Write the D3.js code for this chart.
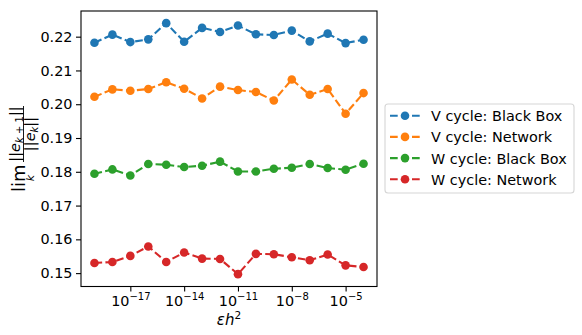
<!DOCTYPE html>
<html>
<head>
<meta charset="utf-8">
<script src="https://cdn.jsdelivr.net/npm/d3@7"></script>
<style>
  body { margin: 0; background: #fff; }
  svg { font-family: "DejaVu Sans", sans-serif; }
</style>
</head>
<body>
<div id="chart"></div>
<script>
// eps*h^2 values, as powers of ten
const exponents = [-19, -18, -17, -16, -15, -14, -13, -12, -11, -10, -9, -8, -7, -6, -5, -4];

const vBlackBox = [0.2182, 0.2206, 0.2184, 0.2192, 0.2240, 0.2185, 0.2226, 0.2214,
  0.2233, 0.2207, 0.2205, 0.2218, 0.2186, 0.2209, 0.2181, 0.2191];
const vNetwork = [0.2022, 0.2044, 0.2040, 0.2045, 0.2065, 0.2046, 0.2017, 0.2052,
  0.2042, 0.2036, 0.2011, 0.2073, 0.2028, 0.2045, 0.1972, 0.2033];
const wBlackBox = [0.1794, 0.1807, 0.1789, 0.1823, 0.1821, 0.1814, 0.1818, 0.1830,
  0.1801, 0.1801, 0.1809, 0.1812, 0.1823, 0.1811, 0.1806, 0.1824];
const wNetwork = [0.1530, 0.1533, 0.1551, 0.1579, 0.1533, 0.1561, 0.1543, 0.1542,
  0.1497, 0.1557, 0.1556, 0.1547, 0.1538, 0.1555, 0.1523, 0.1518];

const seriesNames = ["V cycle: Black Box", "V cycle: Network", "W cycle: Black Box", "W cycle: Network"];
const seriesColors = ["#1f77b4", "#ff7f0e", "#2ca02c", "#d62728"];
const yTicks = [0.15, 0.16, 0.17, 0.18, 0.19, 0.20, 0.21, 0.22];
const xTickExps = [-17, -14, -11, -8, -5];

const width = 582;
const height = 335;
const margin = { top: 11, right: 205, bottom: 48.5, left: 81 };

const series = [vBlackBox, vNetwork, wBlackBox, wNetwork].map((vals, i) => ({
  name: seriesNames[i],
  color: seriesColors[i],
  points: vals.map((v, j) => ({ x: Math.pow(10, exponents[j]), y: v })),
}));

const svg = d3.select("#chart")
  .append("svg")
  .attr("width", width)
  .attr("height", height);

const x = d3.scaleLog()
  .domain([Math.pow(10, -19.75), Math.pow(10, -3.25)])
  .range([margin.left, width - margin.right]);

const y = d3.scaleLinear()
  .domain([0.14604, 0.2276])
  .range([height - margin.bottom, margin.top]);

const fontSize = 14.4;

// y axis
const yAxis = svg.append("g")
  .attr("transform", `translate(${margin.left},0)`)
  .call(d3.axisLeft(y).tickValues(yTicks).tickFormat(d3.format(".2f"))
    .tickSize(5).tickPadding(3.5).tickSizeOuter(0));
yAxis.select(".domain").remove();
yAxis.selectAll("line").attr("stroke", "#000").attr("stroke-width", 1.1);
yAxis.selectAll("text")
  .attr("font-family", "DejaVu Sans")
  .attr("font-size", fontSize)
  .attr("fill", "#000");

// x axis
const xAxis = svg.append("g")
  .attr("transform", `translate(0,${height - margin.bottom})`)
  .call(d3.axisBottom(x).tickValues(xTickExps.map((e) => Math.pow(10, e)))
    .tickFormat("").tickSize(5).tickSizeOuter(0));
xAxis.select(".domain").remove();
xAxis.selectAll("line").attr("stroke", "#000").attr("stroke-width", 1.1);
xAxis.selectAll(".tick").each(function (d, i) {
  const t = d3.select(this).append("text")
    .attr("y", 19.5)
    .attr("fill", "#000")
    .attr("text-anchor", "middle")
    .attr("font-family", "DejaVu Sans")
    .attr("font-size", fontSize);
  t.append("tspan").text("10");
  t.append("tspan")
    .attr("dy", -6.5)
    .attr("font-size", 10)
    .text("\u2212" + Math.abs(xTickExps[i]));
});

// frame
svg.append("rect")
  .attr("x", margin.left)
  .attr("y", margin.top)
  .attr("width", width - margin.left - margin.right)
  .attr("height", height - margin.top - margin.bottom)
  .attr("fill", "none")
  .attr("stroke", "#000")
  .attr("stroke-width", 1.1);

// lines + markers
const line = d3.line().x((d) => x(d.x)).y((d) => y(d.y));

const sg = svg.selectAll(".series")
  .data(series)
  .enter()
  .append("g")
  .attr("class", "series");

sg.append("path")
  .attr("d", (d) => line(d.points))
  .attr("fill", "none")
  .attr("stroke", (d) => d.color)
  .attr("stroke-width", 2.1)
  .attr("stroke-dasharray", "7.7,3.3");

sg.selectAll("circle")
  .data((d) => d.points.map((p) => ({ ...p, color: d.color })))
  .enter()
  .append("circle")
  .attr("cx", (d) => x(d.x))
  .attr("cy", (d) => y(d.y))
  .attr("r", 4.3)
  .attr("fill", (d) => d.color);

// x label: eps h^2
const xl = svg.append("text")
  .attr("x", (margin.left + width - margin.right) / 2)
  .attr("y", 325)
  .attr("text-anchor", "middle")
  .attr("font-family", "DejaVu Sans")
  .attr("font-size", 15)
  .attr("fill", "#000");
xl.append("tspan").attr("font-style", "italic").text("\u03b5h");
xl.append("tspan").attr("dy", -6.5).attr("font-size", 10.5).text("2");

// y label: lim_k ||e_{k+1}|| / ||e_k||, rotated
const yl = svg.append("g").attr("transform", "rotate(-90)");
yl.append("text")
  .attr("x", -192)
  .attr("y", 25)
  .attr("font-family", "DejaVu Sans")
  .attr("font-size", 18)
  .attr("fill", "#000")
  .text("lim");
yl.append("text")
  .attr("x", -178)
  .attr("y", 33.5)
  .attr("text-anchor", "middle")
  .attr("font-family", "DejaVu Sans")
  .attr("font-style", "italic")
  .attr("font-size", 11)
  .attr("fill", "#000")
  .text("k");
yl.append("line")
  .attr("x1", -162)
  .attr("x2", -106)
  .attr("y1", 23.5)
  .attr("y2", 23.5)
  .attr("stroke", "#000")
  .attr("stroke-width", 0.9);

const num = yl.append("text")
  .attr("x", -134)
  .attr("y", 20)
  .attr("text-anchor", "middle")
  .attr("font-family", "DejaVu Sans")
  .attr("font-size", 14.5)
  .attr("fill", "#000");
num.append("tspan").text("||");
num.append("tspan").attr("font-style", "italic").text("e");
num.append("tspan").attr("font-style", "italic").attr("font-size", 10).attr("dy", 3).text("k");
num.append("tspan").attr("font-size", 10).text(" + 1");
num.append("tspan").attr("dy", -3).text("||");

const den = yl.append("text")
  .attr("x", -134)
  .attr("y", 34.5)
  .attr("text-anchor", "middle")
  .attr("font-family", "DejaVu Sans")
  .attr("font-size", 14.5)
  .attr("fill", "#000");
den.append("tspan").text("||");
den.append("tspan").attr("font-style", "italic").text("e");
den.append("tspan").attr("font-style", "italic").attr("font-size", 10).attr("dy", 3).text("k");
den.append("tspan").attr("dy", -3).text("||");

// legend
const legend = svg.append("g");
legend.append("rect")
  .attr("x", 385)
  .attr("y", 104)
  .attr("width", 189)
  .attr("height", 89)
  .attr("rx", 3)
  .attr("fill", "#fff")
  .attr("stroke", "#d6d6d6")
  .attr("stroke-width", 1.1);

const items = legend.selectAll(".item")
  .data(series)
  .enter()
  .append("g")
  .attr("class", "item")
  .attr("transform", (d, i) => `translate(0,${115.7 + i * 21.2})`);

items.append("line")
  .attr("x1", 390)
  .attr("x2", 420)
  .attr("stroke", (d) => d.color)
  .attr("stroke-width", 2.1)
  .attr("stroke-dasharray", "7.7,3.3");
items.append("circle")
  .attr("cx", 405)
  .attr("r", 4.3)
  .attr("fill", (d) => d.color);
items.append("text")
  .attr("x", 431)
  .attr("y", 5.5)
  .attr("font-family", "DejaVu Sans")
  .attr("font-size", fontSize)
  .attr("fill", "#000")
  .text((d) => d.name);
</script>
</body>
</html>
